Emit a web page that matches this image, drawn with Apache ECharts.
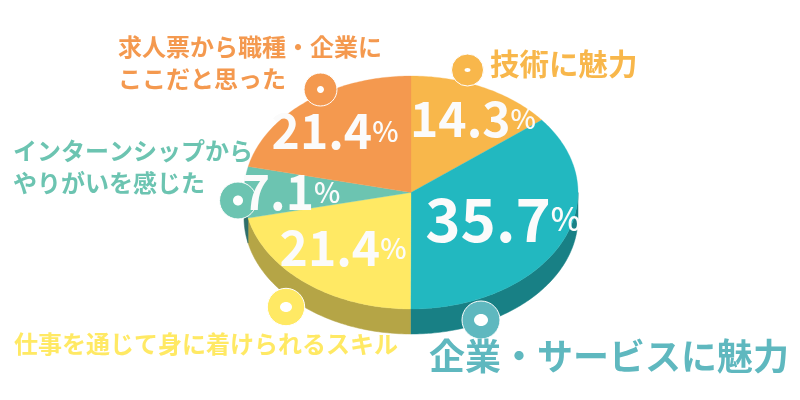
<!DOCTYPE html>
<html><head><meta charset="utf-8">
<style>html,body{margin:0;padding:0;background:#fff}#c{width:800px;height:400px}</style>
<script src="https://cdn.jsdelivr.net/npm/echarts@6/dist/echarts.min.js"></script>
</head><body><div id="c"></div>
<script>
var categories = ['技術に魅力','企業・サービスに魅力','仕事を通じて身に着けられるスキル','インターンシップからやりがいを感じた','求人票から職種・企業にここだと思った'];
var shares = [14.3, 35.7, 21.4, 7.1, 21.4];
var shareLabels = ['14.3','35.7','21.4','7.1','21.4'];
var labelLines = [['技術に魅力'],['企業・サービスに魅力'],['仕事を通じて身に着けられるスキル'],['インターンシップから','やりがいを感じた'],['求人票から職種・企業に','ここだと思った']];
var topColors = ['#F8B74B','#22B8C0','#FFE964','#6CC4B1','#F4994F'];
var sideColors = ['#B08A3A','#188085','#B5A546','#2F6F6A','#B0703A'];
var textColors = ['#F8B74B','#5FB8BF','#FFE964','#6CC4B1','#F4994F'];
var dotColors = ['#F8B74B','#5FB8BF','#FFE964','#6CC4B1','#F4994F'];

var CX=411, CY=192.5, RX=167, RY=116.5, DEPTH=25;
var numPos=[[473,119,48,27],[503,219,60,32],[343,248,48,28],[291,192,48,28],[335,131,48,28]];
var dots=[[467.5,70,16,3,2],[481,320,19,7,6],[286,307,18.7,6,5],[238,200.5,18.5,5,5],[320.5,89.5,16.5,3.5,3.5]];
var namePos=[[490,64,29.5],[429,356,36],[14,344,24],[13,151,24,32],[118,47,24,32]];

function ranges(){var a=0,t=shares.reduce(function(x,y){return x+y;},0);return shares.map(function(v){var s=a;a+=v/t*360;return [s,a];});}
function pt(deg,dy){var r=deg*Math.PI/180;return [CX+RX*Math.sin(r),CY-RY*Math.cos(r)+(dy||0)];}
function arc(s,e,dy){var o=[];for(var d=s;d<e;d+=1)o.push(pt(d,dy));o.push(pt(e,dy));return o;}
var R=ranges();

var option={animation:false,backgroundColor:'#fff',
 xAxis:{show:false},yAxis:{show:false},grid:{show:false},
 series:[
 {type:'custom',coordinateSystem:'none',z:1,silent:true,data:shares,renderItem:function(p){
   var i=p.dataIndex,s=Math.max(R[i][0],90),e=Math.min(R[i][1],270);
   if(e<=s)return {type:'group',children:[]};
   return {type:'polygon',shape:{points:arc(s,e,0).concat(arc(s,e,DEPTH).reverse())},style:{fill:sideColors[i],stroke:sideColors[i],lineWidth:0.5}};
 }},
 {type:'custom',coordinateSystem:'none',z:2,silent:true,data:shares,renderItem:function(p){
   var i=p.dataIndex;
   return {type:'polygon',shape:{points:[[CX,CY]].concat(arc(R[i][0],R[i][1],0))},style:{fill:topColors[i],stroke:topColors[i],lineWidth:0.3}};
 }},
 {type:'custom',coordinateSystem:'none',z:3,silent:true,data:shares,renderItem:function(p){
   var i=p.dataIndex,d=dots[i];
   return {type:'group',children:[
    {type:'circle',shape:{cx:d[0],cy:d[1],r:d[2]},style:{fill:dotColors[i],stroke:'#fff',lineWidth:1}},
    {type:'ellipse',shape:{cx:d[0],cy:d[1],rx:d[3],ry:d[4]},style:{fill:'#fff'}}
   ]};
 }},
 {type:'custom',coordinateSystem:'none',z:4,silent:true,data:shares,renderItem:function(p){
   var i=p.dataIndex,n=numPos[i];
   return {type:'text',style:{x:n[0],y:n[1],text:'{a|'+shareLabels[i]+'}{b|%}',align:'center',verticalAlign:'middle',
     rich:{a:{fontFamily:'"Noto Sans CJK JP"',fontWeight:700,fontSize:n[2],fill:'#FBFBFB',letterSpacing:1},
           b:{fontFamily:'"Noto Sans CJK JP"',fontWeight:500,fontSize:n[3],fill:'#FBFBFB'}}}};
 }},
 {type:'custom',coordinateSystem:'none',z:5,silent:true,data:shares,renderItem:function(p){
   var i=p.dataIndex,n=namePos[i];
   return {type:'group',children:labelLines[i].map(function(t,k){
     return {type:'text',style:{x:n[0],y:n[1]+k*(n[3]||0),text:t,align:'left',verticalAlign:'middle',
       fontFamily:'"Noto Sans CJK JP"',fontWeight:700,fontSize:n[2],fill:textColors[i]}};
   })};
 }}
 ]};
var chart=echarts.init(document.getElementById('c'),null,{renderer:'canvas'});
chart.setOption(option);
</script></body></html>
